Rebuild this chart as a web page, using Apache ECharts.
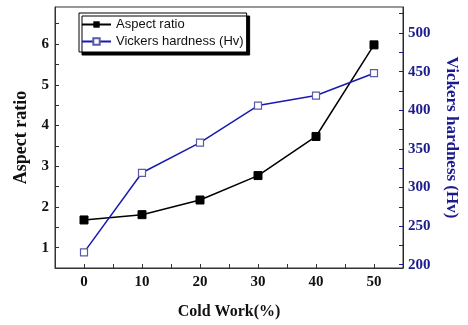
<!DOCTYPE html>
<html>
<head>
<meta charset="utf-8">
<script src="https://cdn.jsdelivr.net/npm/echarts@6/dist/echarts.min.js"></script>
<style>html,body{margin:0;padding:0;background:#fff}#c{width:468px;height:325px}</style>
</head>
<body>
<div id="c"></div>
<script>
const coldWork = [0, 10, 20, 30, 40, 50];
const aspectRatio = [1.68, 1.81, 2.17, 2.77, 3.73, 5.98];
const vickers = [216, 319, 358, 406, 419, 448];
const xTickLabels = [0, 10, 20, 30, 40, 50];
const xTicks = [0, 5, 10, 15, 20, 25, 30, 35, 40, 45, 50];
const leftLabels = [1, 2, 3, 4, 5, 6];
const leftTicks = [0.5, 1, 1.5, 2, 2.5, 3, 3.5, 4, 4.5, 5, 5.5, 6, 6.5];
const rightLabels = [200, 250, 300, 350, 400, 450, 500];
const rightTicks = [200, 225, 250, 275, 300, 325, 350, 375, 400, 425, 450, 475, 500, 525];

const navy = '#1c1c8e';
const serif = 'Liberation Serif';
const chart = echarts.init(document.getElementById('c'), null, {renderer: 'canvas'});
chart.setOption({
  animation: false,
  backgroundColor: '#fff',
  grid: {left: 55, right: 58, top: 7, bottom: 57, show: true, borderColor: '#333', borderWidth: 1, backgroundColor: 'transparent'},
  legend: {
    orient: 'vertical', left: 79, top: 13,
    padding: [5, 3, 4, 2], itemGap: 4, itemWidth: 29, itemHeight: 8,
    backgroundColor: '#fff', borderColor: '#000', borderWidth: 1,
    shadowColor: '#000', shadowOffsetX: 3, shadowOffsetY: 3, shadowBlur: 0,
    textStyle: {fontFamily: 'Liberation Sans', fontSize: 13, color: '#111'},
    data: ['Aspect ratio', 'Vickers hardness (Hv)']
  },
  xAxis: {
    type: 'value', min: -5, max: 55,
    name: 'Cold Work(%)', nameLocation: 'middle', nameGap: 36,
    nameTextStyle: {fontFamily: serif, fontWeight: 'bold', fontSize: 16, color: '#111'},
    axisLine: {onZero: false, lineStyle: {color: '#333', width: 1}},
    axisTick: {inside: true, length: 4, customValues: xTicks, lineStyle: {color: '#333'}},
    axisLabel: {customValues: xTickLabels, margin: 7, fontFamily: serif, fontWeight: 'bold', fontSize: 15, color: '#111'},
    splitLine: {show: false}
  },
  yAxis: [
    {
      type: 'value', min: 0.5, max: 6.91, position: 'left',
      name: 'Aspect ratio', nameLocation: 'middle', nameGap: 24, nameRotate: 90,
      nameTextStyle: {fontFamily: serif, fontWeight: 'bold', fontSize: 18, color: '#111'},
      axisLine: {show: true, onZero: false, lineStyle: {color: '#333', width: 1}},
      axisTick: {inside: true, length: 4, customValues: leftTicks, lineStyle: {color: '#333'}},
      axisLabel: {customValues: leftLabels, margin: 6, fontFamily: serif, fontWeight: 'bold', fontSize: 15, color: '#111'},
      splitLine: {show: false}
    },
    {
      type: 'value', min: 195.7, max: 533.7, position: 'right',
      name: 'Vickers hardness (Hv)', nameLocation: 'middle', nameGap: 40, nameRotate: -90,
      nameTextStyle: {fontFamily: serif, fontWeight: 'bold', fontSize: 17, color: navy},
      axisLine: {show: true, onZero: false, lineStyle: {color: navy, width: 1}},
      axisTick: {inside: true, length: 4, customValues: rightTicks, lineStyle: {color: navy}},
      axisLabel: {customValues: rightLabels, margin: 5, fontFamily: serif, fontWeight: 'bold', fontSize: 15, color: navy},
      splitLine: {show: false}
    }
  ],
  series: [
    {
      name: 'Aspect ratio', type: 'line', yAxisIndex: 0,
      data: coldWork.map((x, i) => [x, aspectRatio[i]]),
      symbol: 'rect', symbolSize: 8,
      lineStyle: {color: '#000', width: 1.5},
      itemStyle: {color: '#000', borderColor: '#000'}
    },
    {
      name: 'Vickers hardness (Hv)', type: 'line', yAxisIndex: 1,
      data: coldWork.map((x, i) => [x, vickers[i]]),
      symbol: 'rect', symbolSize: 7,
      lineStyle: {color: '#1a1ab0', width: 1.5},
      itemStyle: {color: '#fff', borderColor: '#5a5aa8', borderWidth: 1.2}
    }
  ]
});
</script>
</body>
</html>
